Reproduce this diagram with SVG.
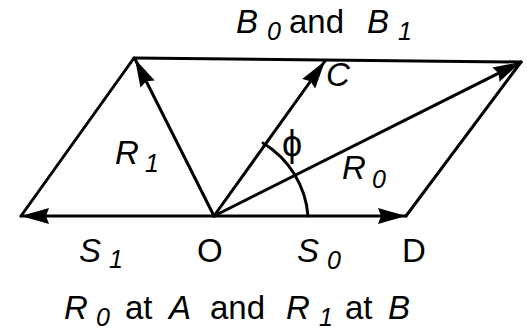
<svg xmlns="http://www.w3.org/2000/svg" width="527" height="334" viewBox="0 0 527 334">
<defs>
<marker id="ah" markerUnits="userSpaceOnUse" markerWidth="30" markerHeight="18" refX="28" refY="9" orient="auto">
<path d="M0,1 L28,9 L0,17 L3,9 Z" fill="#000"/>
</marker>
<style>
.ln{stroke:#000;stroke-width:3;fill:none;stroke-linecap:round;stroke-linejoin:round}
.t{font-family:"Liberation Sans",Arial,sans-serif;font-size:33px;fill:#000}
.i{font-style:italic}
.s{font-size:25px}
</style>
</defs>
<rect width="527" height="334" fill="#fff"/>
<g id="connectors">
<path class="ln" d="M134,58 L521,62"/>
<path class="ln" d="M134,58 L21,216"/>
<path class="ln" d="M521,62 L406,216"/>
<path class="ln" d="M214,216 L406,216" marker-end="url(#ah)"/>
<path class="ln" d="M214,216 L21,216" marker-end="url(#ah)"/>
<path class="ln" d="M214,216 L135,59" marker-end="url(#ah)"/>
<path class="ln" d="M214,216 L325,61" marker-end="url(#ah)"/>
<path class="ln" d="M214,216 L521,62" marker-end="url(#ah)"/>
<path class="ln" d="M308,216 A94,94 0 0 0 263,143"/>
</g>
<g id="title">
<text class="t i" x="236" y="33">B</text>
<text class="t i s" x="267" y="40">0</text>
<text class="t" x="289" y="33">and</text>
<text class="t i" x="367" y="33">B</text>
<text class="t i s" x="398" y="40">1</text>
</g>
<g id="node-C"><text class="t i" x="326" y="86">C</text></g>
<g id="node-phi"><text class="t" style="font-size:36px" x="282" y="156">ϕ</text></g>
<g id="node-R1">
<text class="t i" x="115" y="164">R</text>
<text class="t i s" x="145" y="172">1</text>
</g>
<g id="node-R0">
<text class="t i" x="342" y="179">R</text>
<text class="t i s" x="372" y="188">0</text>
</g>
<g id="node-S1">
<text class="t i" x="79" y="262">S</text>
<text class="t i s" x="109" y="268">1</text>
</g>
<g id="node-O"><text class="t" x="197" y="262">O</text></g>
<g id="node-S0">
<text class="t i" x="297" y="262">S</text>
<text class="t i s" x="327" y="269">0</text>
</g>
<g id="node-D"><text class="t" x="402" y="262">D</text></g>
<g id="caption">
<text class="t i" x="64" y="319">R</text>
<text class="t i s" x="96" y="326">0</text>
<text class="t" x="125" y="319">at</text>
<text class="t i" x="169" y="319">A</text>
<text class="t" x="210" y="319">and</text>
<text class="t i" x="286" y="319">R</text>
<text class="t i s" x="319" y="326">1</text>
<text class="t" x="345" y="319">at</text>
<text class="t i" x="388" y="319">B</text>
</g>
</svg>
